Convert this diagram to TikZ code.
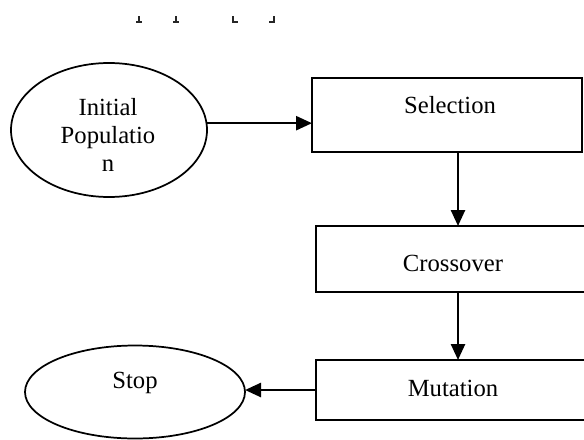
\documentclass[tikz,border=0pt]{standalone}
\usepackage{fontspec}
\setmainfont{Liberation Serif}
\usetikzlibrary{shapes.geometric,arrows.meta,calc}
\begin{document}
\begin{tikzpicture}[x=0.75pt,y=-0.75pt,
  boxnode/.style={draw,line width=1.3pt,rectangle,inner sep=0pt,outer sep=0pt},
  ovalnode/.style={draw,line width=1.3pt,ellipse,inner sep=0pt,outer sep=0pt},
  txt/.style={font=\fontsize{18.5pt}{21pt}\selectfont,align=center,inner sep=0pt},
  arr/.style={line width=1.9pt,-{Triangle[length=12pt,width=10.5pt]}},
  frag/.style={line width=2pt,black!85}]
\useasboundingbox (0,0) rectangle (584,439);
\clip (0,0) rectangle (584,439);
% fragments of clipped text at the top
\draw[frag] (139,16) -- (139,22) (136,22) -- (142,22);
\draw[frag] (176,16) -- (176,22) (173,22) -- (179,22);
\draw[frag] (233,16) -- (233,22) -- (238,22);
\draw[frag] (274,16) -- (274,22) -- (269,22);
% shapes
\node[ovalnode,minimum width=147pt,minimum height=100.5pt] (init) at (109,130) {};
\node[txt] (initt) at (108,135) {Initial\\Populatio\\n};
\node[boxnode,minimum width=202.5pt,minimum height=55.5pt] (sel) at (447,115) {};
\node[txt] (selt) at (450,105) {Selection};
\node[boxnode,minimum width=213pt,minimum height=49.5pt] (cross) at (458,259) {};
\node[txt] (crosst) at (453,263) {Crossover};
\node[boxnode,minimum width=213pt,minimum height=45pt] (mut) at (458,390) {};
\node[txt] (mutt) at (453,388) {Mutation};
\node[ovalnode,minimum width=165pt,minimum height=69.75pt] (stop) at (135,392) {};
\node[txt] (stopt) at (135,383) {Stop};
% connectors
\draw[arr] (init.4) -- (init.4 -| sel.west);
\draw[arr] (sel.south -| cross.north) -- (cross.north);
\draw[arr] (cross.south) -- (mut.north);
\draw[arr] (mut.west) -- (mut.west -| stop.east);
\end{tikzpicture}
\end{document}
